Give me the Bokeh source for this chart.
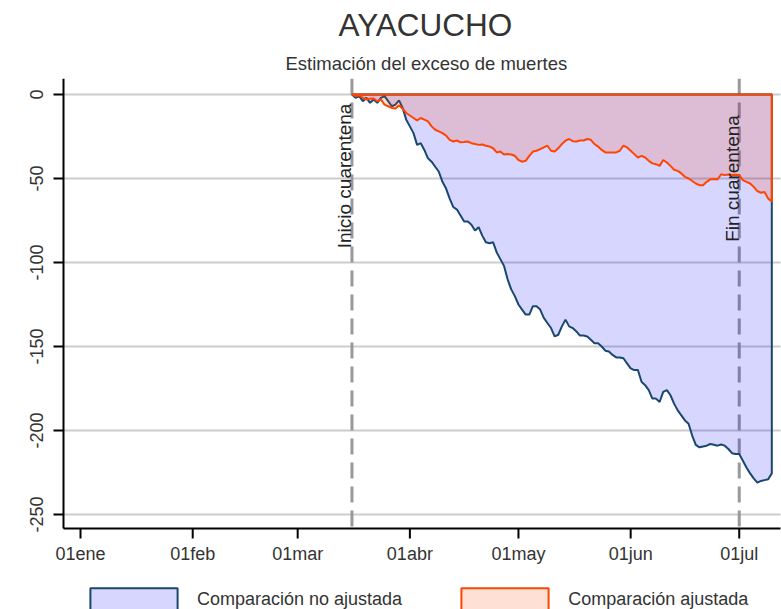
import math
import pandas as pd
from bokeh.plotting import figure
from bokeh.core.properties import value
from bokeh.models import Range1d, Label, Legend, LegendItem, Title
from bokeh.embed import file_html
from bokeh.resources import INLINE

# ---------------- data ----------------
start_date = "2020-03-16"
no_ajustada = [
    0, -2, -1, -4, -2, -5, -3, -5, -2, -1,
    -4, -7, -6, -3.5, -8, -15, -19, -23, -30, -29,
    -33, -38, -40, -43, -46, -52, -56, -62, -67, -68.5,
    -72, -75.6, -75.6, -77.5, -81, -79, -84, -88, -88.5, -88,
    -94, -98, -102, -110, -116, -120, -125, -128, -131, -131,
    -126, -126, -128, -133, -136, -139, -144, -143, -138, -134,
    -138, -139, -141, -143.5, -143.5, -144, -146, -148, -148, -150,
    -152.5, -153, -155, -156.5, -156.5, -157, -160, -163, -164, -164,
    -171, -173, -176, -181, -181, -183, -177, -176, -179, -184,
    -188, -191, -194, -196, -203, -208.5, -210, -209.5, -209, -208,
    -208.5, -209, -208.3, -209, -211, -213.5, -214, -214, -218, -222,
    -225.5, -228.5, -231, -230, -229.5, -229, -225.5,
]
ajustada = [
    0, -1, -0.5, -2, -3, -2.5, -2.4, -4, -3, -6,
    -7, -8, -8.3, -6.5, -8.5, -11, -12.5, -14, -15.5, -14,
    -15, -16, -19, -21, -22, -23, -24.5, -27, -28, -27.4,
    -28.5, -28.3, -28, -29, -29.5, -30, -29.8, -30.5, -31, -32,
    -34.5, -34, -35.7, -35.5, -35.7, -36.5, -39, -40, -39.5, -36.5,
    -34, -33.5, -32.5, -31.5, -30.5, -33.5, -34, -32, -29.5, -27.5,
    -26.5, -27.8, -28, -27.4, -27.4, -26.5, -27, -29.5, -31, -33,
    -34.5, -34.5, -34.5, -34.5, -33.5, -30.4, -31.5, -33.5, -35.5, -37.5,
    -36.5, -37.5, -39.5, -41, -41.5, -42.5, -39, -40.5, -42.5, -44.8,
    -45.5, -47, -49, -50, -51.5, -53, -54, -54, -52, -50.5,
    -50.3, -50.6, -47.5, -48, -47.6, -48, -47.8, -48, -51, -52,
    -53, -55, -57.5, -58.5, -58, -62, -63.7,
]
series_labels = ["Comparación no ajustada", "Comparación ajustada"]
tick_dates = ["2020-01-01", "2020-02-01", "2020-03-01", "2020-04-01",
              "2020-05-01", "2020-06-01", "2020-07-01"]
tick_labels = ["01ene", "01feb", "01mar", "01abr", "01may", "01jun", "01jul"]
y_ticks = [-250, -200, -150, -100, -50, 0]
y_tick_labels = ["-250", "-200", "-150", "-100", "-50", "0"]
inicio_cuarentena = "2020-03-16"
fin_cuarentena = "2020-07-01"

# ---------------- helpers ----------------
origin = pd.Timestamp("2020-01-01")
def day(d):
    return (pd.Timestamp(d) - origin) / pd.Timedelta(days=1)

dates = pd.date_range(start_date, periods=len(no_ajustada), freq="D")
xd = [day(d) for d in dates]
tick_x = [day(d) for d in tick_dates]

FONT = "Liberation Sans"
TXT = "#333333"

# plot window (where the axes sit) and pixel geometry
X_AXIS, X_END = -4.7, 193.4           # x (days from 01ene) of y axis / right edge
LEFT_PX, PLOT_W = 63, 717
PX_DAY = PLOT_W / (X_END - X_AXIS)
Y_TOP, Y_AXIS = 9.5, -258.3
PLOT_PX = 450
SCALE = PLOT_PX / (Y_TOP - Y_AXIS)
EXTRA_PX = 82
Y_BOTTOM = Y_AXIS - EXTRA_PX / SCALE
X_START = X_AXIS - LEFT_PX / PX_DAY
X_STOP = X_END + 1 / PX_DAY

p = figure(frame_width=LEFT_PX + PLOT_W + 1, frame_height=PLOT_PX + EXTRA_PX,
           output_backend="svg", toolbar_location=None,
           x_axis_location=None, y_axis_location=None,
           x_range=Range1d(X_START, X_STOP), y_range=Range1d(Y_BOTTOM, Y_TOP),
           min_border_left=0, min_border_right=0, min_border_top=77,
           min_border_bottom=0, title=None)
p.outline_line_color = None
p.grid.visible = False

n_y = len(y_ticks)
n_x = len(tick_x)

# horizontal gridlines
p.segment(x0=[X_AXIS] * n_y, y0=y_ticks, x1=[X_END] * n_y, y1=y_ticks,
          line_color="#cccccc", line_width=2)

# vertical dashed lines (under the translucent fills)
vx = [day(inicio_cuarentena), day(fin_cuarentena)]
p.segment(x0=vx, y0=[Y_TOP] * 2, x1=vx, y1=[Y_AXIS] * 2, line_color="#999999",
          line_width=3, line_dash="16 8")

# areas
px = [xd[0]] + xd + [xd[-1]]
r_blue = p.patch(px, [0] + no_ajustada + [0], fill_color="#0000ff", fill_alpha=0.16,
                 line_color="#1a476f", line_width=2)
r_red = p.patch(px, [0] + ajustada + [0], fill_color="#ff4500", fill_alpha=0.165,
                line_color="#ff4500", line_width=2)

# y axis: line, ticks, rotated labels
p.segment(x0=[X_AXIS], y0=[Y_AXIS], x1=[X_AXIS], y1=[Y_TOP], line_color="black",
          line_width=2)
p.segment(x0=[X_AXIS] * n_y, y0=y_ticks, x1=[X_AXIS - 10 / PX_DAY] * n_y, y1=y_ticks,
          line_color="black", line_width=2)
p.text(x=[X_AXIS] * n_y, y=y_ticks, text=y_tick_labels, angle=math.pi / 2,
       text_align="center", text_baseline="middle", x_offset=-27,
       text_font=value(FONT), text_font_size="18px", text_color=TXT)

# x axis: line, ticks, labels
p.segment(x0=[X_AXIS], y0=[Y_AXIS], x1=[X_END], y1=[Y_AXIS], line_color="black",
          line_width=2)
p.segment(x0=tick_x, y0=[Y_AXIS] * n_x, x1=tick_x, y1=[Y_AXIS - 10 / SCALE] * n_x,
          line_color="black", line_width=2)
p.text(x=tick_x, y=[Y_AXIS] * n_x, text=tick_labels, text_align="center",
       text_baseline="top", y_offset=15, text_font=value(FONT),
       text_font_size="18px", text_color=TXT)

# annotations
p.add_layout(Label(x=day(inicio_cuarentena), y=-48.5, text="Inicio cuarentena",
                   angle=math.pi / 2, text_align="center", text_baseline="alphabetic",
                   x_offset=-7, text_font=FONT, text_font_size="19px", text_color="#222222"))
p.add_layout(Label(x=day(fin_cuarentena), y=-50, text="Fin cuarentena",
                   angle=math.pi / 2, text_align="center", text_baseline="alphabetic",
                   x_offset=-7, text_font=FONT, text_font_size="19px", text_color="#222222"))

# titles
p.add_layout(Title(text="Estimación del exceso de muertes", align="left", offset=285,
                   text_font=FONT, text_font_size="18.5px", text_font_style="normal",
                   text_color=TXT, standoff=9), "above")
p.add_layout(Title(text="AYACUCHO", align="left", offset=338,
                   text_font=FONT, text_font_size="31.5px", text_font_style="normal",
                   text_color=TXT, standoff=8), "above")

legend = Legend(items=[LegendItem(label=series_labels[0], renderers=[r_blue]),
                       LegendItem(label=series_labels[1], renderers=[r_red])],
                orientation="horizontal", location=(79, -3),
                glyph_width=109, glyph_height=28, label_standoff=9, spacing=48,
                border_line_color=None, background_fill_alpha=0, padding=0, margin=0,
                label_text_font=FONT, label_text_font_size="18px", label_text_color=TXT)
p.add_layout(legend)

open("out.html", "w").write(file_html(p, INLINE))
